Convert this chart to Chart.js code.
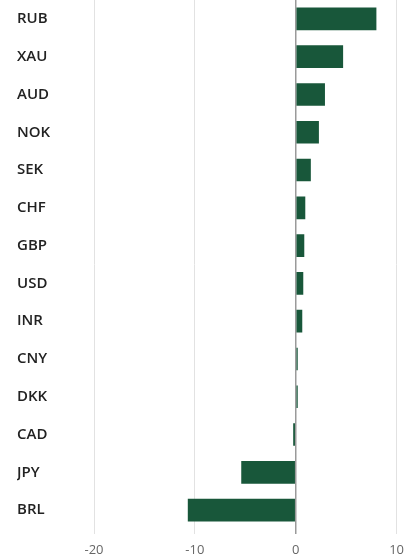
<!DOCTYPE html>
<html>
<head>
<meta charset="utf-8">
<script src="https://cdn.jsdelivr.net/npm/chart.js@4/dist/chart.umd.min.js"></script>
<style>
  html, body { margin: 0; padding: 0; background: #ffffff; }
  #wrap { width: 412px; height: 557px; position: relative; }
</style>
</head>
<body>
<div id="wrap"><canvas id="c"></canvas></div>
<script>
const categories = ["RUB", "XAU", "AUD", "NOK", "SEK", "CHF", "GBP", "USD", "INR", "CNY", "DKK", "CAD", "JPY", "BRL"];
const values = [8.0, 4.7, 2.9, 2.3, 1.5, 0.95, 0.85, 0.75, 0.65, 0.2, 0.2, -0.25, -5.4, -10.7];
const xTicks = [-20, -10, 0, 10];

new Chart(document.getElementById('c'), {
  type: 'bar',
  data: {
    labels: categories,
    datasets: [{
      data: values,
      backgroundColor: '#18573a',
      borderWidth: 0,
      barPercentage: 0.6,
      categoryPercentage: 1.0
    }]
  },
  options: {
    indexAxis: 'y',
    responsive: true,
    maintainAspectRatio: false,
    animation: false,
    layout: { padding: { left: 17, right: 15, top: 0, bottom: 0 } },
    plugins: { legend: { display: false }, tooltip: { enabled: false } },
    scales: {
      x: {
        type: 'linear',
        min: xTicks[0],
        max: xTicks[xTicks.length - 1],
        afterBuildTicks: (scale) => { scale.ticks = xTicks.map(v => ({ value: v })); },
        afterFit: (scale) => { scale.height = 28; },
        border: { display: false },
        grid: {
          color: (ctx) => (ctx.tick && ctx.tick.value === 0) ? '#9a9a9a' : '#e2e2e2',
          lineWidth: (ctx) => (ctx.tick && ctx.tick.value === 0) ? 1.5 : 1,
          tickLength: 5
        },
        ticks: {
          padding: 8,
          color: '#666666',
          font: { family: 'Open Sans', size: 13 },
          maxRotation: 0
        }
      },
      y: {
        border: { display: false },
        grid: { display: false, drawTicks: false },
        afterFit: (scale) => { scale.width = 77; scale.paddingTop = 0; scale.paddingBottom = 0; },
        ticks: {
          crossAlign: 'far',
          padding: 0,
          color: '#222222',
          font: { family: 'Open Sans', size: 15, weight: '600' }
        }
      }
    }
  }
});
</script>
</body>
</html>
